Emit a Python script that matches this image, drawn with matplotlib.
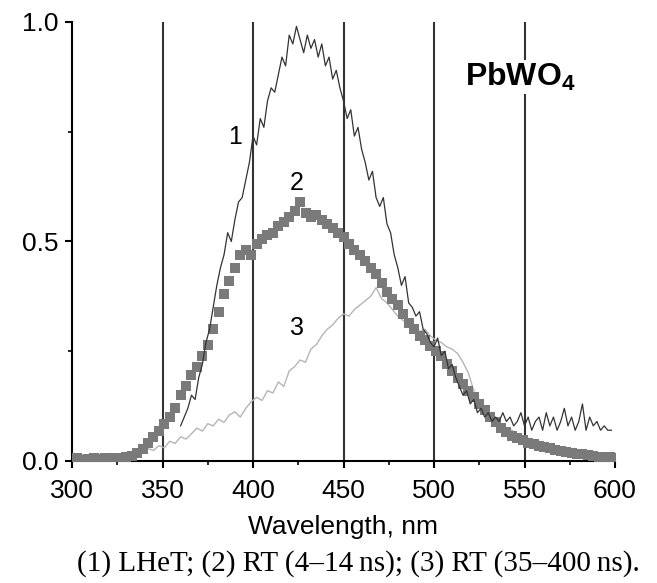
import numpy as np
import matplotlib
matplotlib.use('Agg')
import matplotlib.pyplot as plt
from matplotlib.ticker import MultipleLocator

plt.rcParams['font.family'] = ['Liberation Sans', 'DejaVu Sans']
plt.rcParams['mathtext.fontset'] = 'custom'
plt.rcParams['mathtext.rm'] = 'Liberation Sans'
plt.rcParams['mathtext.bf'] = 'Liberation Sans:bold'

# curve 1: LHeT, 360..598 nm step 2
wl1 = np.arange(360, 600, 2)
y1 = [0.08, 0.10, 0.12, 0.15, 0.14, 0.19, 0.22, 0.27, 0.30, 0.35,
      0.40, 0.44, 0.47, 0.52, 0.50, 0.55, 0.59, 0.60, 0.64, 0.68,
      0.74, 0.72, 0.78, 0.76, 0.82, 0.85, 0.84, 0.88, 0.92, 0.90,
      0.97, 0.95, 0.99, 0.96, 0.93, 0.97, 0.94, 0.96, 0.92, 0.95,
      0.90, 0.92, 0.87, 0.89, 0.85, 0.82, 0.78, 0.80, 0.74, 0.76,
      0.71, 0.68, 0.64, 0.66, 0.60, 0.58, 0.60, 0.54, 0.52, 0.47,
      0.44, 0.40, 0.42, 0.36, 0.35, 0.33, 0.34, 0.30, 0.29, 0.27,
      0.26, 0.28, 0.24, 0.25, 0.21, 0.22, 0.19, 0.17, 0.15, 0.16,
      0.13, 0.14, 0.11, 0.12, 0.10, 0.11, 0.09, 0.10, 0.09, 0.11,
      0.09, 0.10, 0.08, 0.09, 0.11, 0.08, 0.10, 0.07, 0.09, 0.10,
      0.07, 0.11, 0.08, 0.10, 0.07, 0.09, 0.12, 0.08, 0.10, 0.07,
      0.09, 0.13, 0.07, 0.10, 0.08, 0.09, 0.07, 0.08, 0.07, 0.07]

# curve 2: RT (4-14 ns), squares, 300..600 step 3
wl2 = np.arange(300, 601, 3)
y2 = [0.004, 0.006, 0.003, 0.005, 0.006, 0.004, 0.006, 0.005, 0.007, 0.006,
      0.009, 0.012, 0.018, 0.028, 0.040, 0.055, 0.068, 0.085, 0.100, 0.120,
      0.150, 0.170, 0.195, 0.215, 0.240, 0.265, 0.300, 0.340, 0.380, 0.410,
      0.440, 0.470, 0.480, 0.470, 0.495, 0.505, 0.515, 0.520, 0.535, 0.545,
      0.555, 0.570, 0.590, 0.565, 0.555, 0.560, 0.548, 0.540, 0.530, 0.520,
      0.510, 0.495, 0.480, 0.470, 0.455, 0.440, 0.425, 0.405, 0.385, 0.370,
      0.355, 0.335, 0.315, 0.300, 0.285, 0.275, 0.262, 0.250, 0.238, 0.222,
      0.205, 0.190, 0.175, 0.160, 0.145, 0.130, 0.115, 0.100, 0.088, 0.075,
      0.065, 0.058, 0.052, 0.047, 0.042, 0.038, 0.035, 0.032, 0.029, 0.026,
      0.023, 0.021, 0.019, 0.017, 0.015, 0.013, 0.012, 0.010, 0.009, 0.008,
      0.006]

# curve 3: RT (35-400 ns), 300..600 step 3
wl3 = np.arange(300, 601, 3)
y3 = [0.012, 0.010, 0.014, 0.011, 0.016, 0.013, 0.012, 0.017, 0.014, 0.015,
      0.018, 0.013, 0.022, 0.017, 0.028, 0.024, 0.035, 0.030, 0.045, 0.040,
      0.055, 0.050, 0.062, 0.075, 0.068, 0.085, 0.080, 0.095, 0.088, 0.105,
      0.112, 0.100, 0.120, 0.135, 0.145, 0.138, 0.160, 0.155, 0.180, 0.170,
      0.205, 0.215, 0.230, 0.225, 0.255, 0.265, 0.285, 0.300, 0.310, 0.325,
      0.335, 0.330, 0.345, 0.355, 0.365, 0.375, 0.395, 0.370, 0.360, 0.345,
      0.330, 0.320, 0.310, 0.305, 0.295, 0.300, 0.285, 0.275, 0.270, 0.260,
      0.255, 0.245, 0.225, 0.200, 0.160, 0.130, 0.115, 0.100, 0.090, 0.080,
      0.075, 0.070, 0.062, 0.058, 0.052, 0.048, 0.045, 0.040, 0.038, 0.034,
      0.032, 0.030, 0.027, 0.025, 0.022, 0.021, 0.019, 0.017, 0.015, 0.014,
      0.012]

grid_x = [350, 400, 450, 500, 550]
x_ticks = [300, 350, 400, 450, 500, 550, 600]
y_ticks = [0.0, 0.5, 1.0]

fig = plt.figure(figsize=(6.57, 5.83), dpi=100)
ax = fig.add_axes([0.1096, 0.2093, 0.8265, 0.753])

ax.vlines(grid_x, 0, 1.0, colors='#333333', lw=1.5, zorder=1)
ax.plot(wl3, y3, color='#b5b5b5', lw=1.0, zorder=2)
ax.plot(wl2, y2, 's', color='#7a7a7a', ms=7.5, mew=0, zorder=3)
ax.plot(wl1, y1, color='#333333', lw=0.9, zorder=4)

ax.set_xlim(300, 600)
ax.set_ylim(0, 1.0)
ax.set_xticks(x_ticks)
ax.set_yticks(y_ticks)
ax.set_yticklabels(['0.0', '0.5', '1.0'])
ax.xaxis.set_minor_locator(MultipleLocator(25))
ax.yaxis.set_minor_locator(MultipleLocator(0.25))
for s in ['top', 'right']:
    ax.spines[s].set_visible(False)
for s in ['left', 'bottom']:
    ax.spines[s].set_linewidth(1.5)
ax.tick_params(which='major', direction='out', length=5, width=1.5, labelsize=19)
ax.tick_params(which='minor', direction='out', length=3, width=1.2)
ax.tick_params(axis='x', pad=8)
ax.tick_params(axis='y', pad=5)

ax.text(390, 0.738, '1', fontsize=18, ha='center', va='center')
ax.text(424.3, 0.633, '2', fontsize=18, ha='center', va='center')
ax.text(424.3, 0.303, '3', fontsize=18, ha='center', va='center')
ax.text(547.5, 0.875, r'$\mathbf{PbWO_4}$', fontsize=23, ha='center', va='center',
        bbox=dict(facecolor='white', edgecolor='none', pad=1), zorder=5)

fig.text(0.522, 0.096, 'Wavelength, nm', fontsize=19, ha='center', va='center')
fig.text(0.545, 0.034, '(1) LHeT; (2) RT (4\u201314\u2009ns); (3) RT (35\u2013400\u2009ns).',
         fontsize=21, ha='center', va='center', family=['Liberation Serif', 'DejaVu Serif'])

fig.savefig('out.png', dpi=100)
